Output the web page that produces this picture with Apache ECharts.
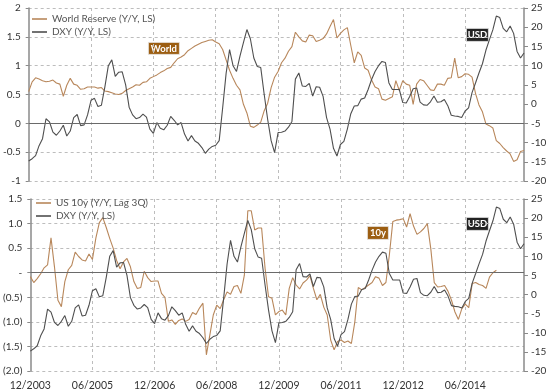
<!DOCTYPE html>
<html>
<head>
<meta charset="utf-8">
<script src="https://cdn.jsdelivr.net/npm/echarts@6/dist/echarts.min.js"></script>
<style>
html,body{margin:0;padding:0;background:#fff;}
#chart{width:550px;height:391px;}
</style>
</head>
<body>
<div id="chart"></div>
<script>
// ---- Data ----
// monthly categories 12/2003 .. 11/2015
const months = [];
for (let k = 0; k < 144; k++) {
  const d = new Date(2003, 11 + k, 1);
  months.push(String(d.getMonth() + 1).padStart(2, '0') + '/' + d.getFullYear());
}
const labelMonths = ['12/2003','06/2005','12/2006','06/2008','12/2009','06/2011','12/2012','06/2014'];

// World Reserve (Y/Y) – left scale, top panel
const worldReserve = [
0.55,0.72,0.79,0.77,0.74,0.72,0.73,0.75,0.70,0.68,
0.47,0.66,0.78,0.68,0.66,0.59,0.60,0.63,0.63,0.63,
0.61,0.62,0.56,0.55,0.53,0.51,0.50,0.52,0.57,0.60,
0.63,0.67,0.66,0.71,0.72,0.78,0.81,0.84,0.88,0.91,
0.95,0.97,1.05,1.12,1.15,1.19,1.26,1.30,1.34,1.37,
1.40,1.42,1.44,1.45,1.41,1.38,1.28,1.10,0.92,0.78,
0.66,0.58,0.33,0.18,-0.05,-0.07,-0.03,0.02,0.22,0.35,
0.62,0.80,0.90,1.05,1.13,1.25,1.33,1.58,1.50,1.43,
1.41,1.53,1.52,1.42,1.44,1.47,1.55,1.68,1.80,1.48,
1.56,1.62,1.66,1.35,1.05,1.24,1.18,0.96,0.92,0.75,
0.63,0.60,0.42,0.40,0.43,0.46,0.74,0.57,0.74,0.68,
0.66,0.33,0.68,0.76,0.74,0.66,0.58,0.57,0.68,0.68,
0.66,0.78,0.79,1.13,0.79,0.81,0.86,0.85,0.80,0.52,
0.32,0.20,-0.01,-0.04,-0.08,-0.30,-0.35,-0.42,-0.48,-0.53,
-0.66,-0.63,-0.49,-0.47
];

// DXY (Y/Y, %) – right scale, both panels
const dxy = [
-14.8,-14.2,-13.4,-10.8,-9.0,-3.8,-4.6,-7.3,-8.1,-7.0,
-5.5,-8.3,-7.0,-3.5,-2.7,-5.6,-5.4,-2.8,1.0,1.5,
-0.6,-0.3,4.5,10.0,11.5,7.2,8.3,8.4,5.0,-0.8,
-2.8,-3.8,-3.5,-2.6,-3.4,-6.5,-7.6,-4.8,-6.3,-6.7,
-5.5,-3.2,-4.2,-5.4,-4.8,-7.8,-9.6,-8.2,-9.6,-10.2,
-11.3,-12.8,-11.7,-11.0,-10.7,-9.5,-1.0,8.0,14.2,10.0,
8.5,12.5,16.0,19.4,17.0,12.0,9.8,9.5,2.5,-4.0,
-9.5,-12.6,-7.4,-7.3,-7.0,-6.0,-4.5,6.5,8.1,4.7,
4.6,5.4,2.1,4.5,4.4,2.0,-3.5,-6.5,-11.5,-13.5,
-10.5,-9.7,-6.5,-2.5,-0.5,-0.4,1.3,1.6,3.8,6.4,
8.5,10.0,11.1,10.8,5.5,3.8,3.8,3.8,0.4,0.3,
2.0,4.0,4.2,0.5,-0.2,-0.3,0.6,2.1,0.5,0.6,
1.2,-0.4,-2.9,-3.1,-3.2,-3.5,-1.8,-1.0,3.0,5.5,
8.1,10.5,14.0,16.7,19.3,22.9,22.5,19.7,18.8,20.3,
18.4,13.7,12.0,13.3
];

// US 10y (Y/Y, Lag 3Q) – left scale, bottom panel
const us10y = [
-0.08,-0.20,-0.12,-0.02,0.10,0.16,0.71,0.12,-0.56,-0.69,
-0.18,0.06,0.15,0.42,0.33,0.26,0.24,0.38,0.27,0.71,
1.02,1.12,0.92,0.70,0.50,0.25,0.08,0.22,0.29,0.12,
-0.18,-0.32,-0.30,0.03,-0.10,-0.18,-0.17,-0.17,-0.42,-0.50,
-0.99,-0.96,-1.05,-0.97,-0.94,-0.99,-0.95,-0.81,-0.85,-0.72,
-0.62,-1.67,-1.27,-0.86,-0.66,-0.73,-0.55,-0.39,-0.44,-0.28,
-0.26,-0.42,-0.05,1.26,1.26,0.87,0.91,0.91,0.09,-0.49,
-0.52,-0.86,-0.79,-0.76,-0.86,-0.32,-0.10,-0.25,-0.33,-0.21,
-0.15,-0.06,-0.32,-0.55,-0.44,-0.70,-0.86,-1.37,-1.57,-1.40,
-1.37,-1.42,-1.39,-1.44,-1.00,-0.30,-0.35,-0.30,-0.25,-0.20,
-0.08,-0.11,-0.26,-0.20,0.36,1.04,1.07,1.08,1.10,0.93,
1.20,0.95,0.78,0.83,0.90,1.00,0.49,-0.20,-0.29,-0.28,
-0.26,-0.38,-0.56,-0.80,-0.95,-0.73,-0.64,-0.71,-0.22,-0.20,
-0.24,-0.26,-0.32,-0.09,0.00,0.05
];

// ---- Chart ----
const FONT = 'Lato';
const BROWN = '#b8875b';
const GREY = '#4f4f4f';
const chart = echarts.init(document.getElementById('chart'), null, {renderer: 'canvas'});

const isLabelIdx = (i) => labelMonths.indexOf(months[i]) >= 0;
const gridDash = {show: true, lineStyle: {color: '#bdbdbd', type: [3, 3], width: 1}};

function xAxisCfg(gi, showLabels) {
  return {
    type: 'category', gridIndex: gi, data: months, boundaryGap: false,
    axisLine: {show: false}, axisTick: {show: false},
    axisLabel: {show: showLabels, interval: (i) => isLabelIdx(i), color: '#333', fontSize: 10.5, fontFamily: FONT, margin: 9},
    splitLine: {show: true, interval: (i) => isLabelIdx(i) && i > 0, lineStyle: {color: '#bdbdbd', type: [3, 3], width: 1}}
  };
}
function yLeft(gi, min, max, fmt) {
  return {
    type: 'value', gridIndex: gi, position: 'left', min: min, max: max, interval: 0.5,
    axisLine: {show: true, lineStyle: {color: '#8a8a8a', width: 1.5}},
    axisTick: {show: true, length: 3, lineStyle: {color: '#8a8a8a'}},
    axisLabel: {color: '#333', fontSize: 10, fontFamily: FONT, margin: 8, formatter: fmt},
    splitLine: gridDash
  };
}
function yRight(gi) {
  return {
    type: 'value', gridIndex: gi, position: 'right', min: -20, max: 25, interval: 5,
    axisLine: {show: true, lineStyle: {color: '#8a8a8a', width: 1.5}},
    axisTick: {show: true, length: 4, lineStyle: {color: '#8a8a8a'}},
    axisLabel: {color: '#333', fontSize: 10, fontFamily: FONT, margin: 7},
    splitLine: {show: false}
  };
}
const zeroLine = {
  silent: true, symbol: ['none', 'none'], label: {show: false},
  lineStyle: {color: '#6a6a6a', type: 'solid', width: 1.2},
  data: [{yAxis: 0}]
};
function annot(x, y, w, h, txt, fill) {
  return {
    type: 'group', left: x, top: y, z: 100,
    children: [
      {type: 'rect', shape: {x: 0, y: 0, width: w, height: h}, style: {fill: fill, stroke: '#e8e8e8', lineWidth: 0.8}},
      {type: 'text', x: w / 2, y: h / 2 + 0.5, style: {text: txt, fill: '#fff', font: 'bold 9.5px ' + FONT, textAlign: 'center', textVerticalAlign: 'middle'}}
    ]
  };
}
const legendCommon = {
  orient: 'vertical', icon: 'rect', itemWidth: 15, itemHeight: 1.6, itemGap: 3,
  textStyle: {color: '#555', fontSize: 10, fontFamily: FONT, padding: [0, 0, 0, 0]}, selectedMode: false
};

chart.setOption({
  animation: false,
  backgroundColor: '#fff',
  grid: [
    {left: 24, right: 26, top: 8, height: 173},
    {left: 30, right: 26, top: 199, height: 172}
  ],
  legend: [
    Object.assign({data: ['World Reserve (Y/Y, LS)', 'DXY (Y/Y, LS)'], left: 27, top: 9}, legendCommon),
    Object.assign({data: ['US 10y (Y/Y, Lag 3Q)', 'DXY (Y/Y, LS) '], left: 31, top: 193}, legendCommon)
  ],
  xAxis: [xAxisCfg(0, false), xAxisCfg(1, true)],
  yAxis: [
    yLeft(0, -1, 2, (v) => String(v)),
    yRight(0),
    yLeft(1, -2, 1.5, (v) => v === 0 ? '-' : (v < 0 ? '(' + Math.abs(v).toFixed(1) + ')' : v.toFixed(1))),
    yRight(1)
  ],
  series: [
    {name: 'World Reserve (Y/Y, LS)', type: 'line', xAxisIndex: 0, yAxisIndex: 0, data: worldReserve,
     symbol: 'none', lineStyle: {color: BROWN, width: 1.1}, itemStyle: {color: BROWN}, markLine: zeroLine},
    {name: 'DXY (Y/Y, LS)', type: 'line', xAxisIndex: 0, yAxisIndex: 1, data: dxy,
     symbol: 'none', lineStyle: {color: GREY, width: 1.1}, itemStyle: {color: GREY}},
    {name: 'US 10y (Y/Y, Lag 3Q)', type: 'line', xAxisIndex: 1, yAxisIndex: 2, data: us10y,
     symbol: 'none', lineStyle: {color: BROWN, width: 1.1}, itemStyle: {color: BROWN}, markLine: zeroLine},
    {name: 'DXY (Y/Y, LS) ', type: 'line', xAxisIndex: 1, yAxisIndex: 3, data: dxy,
     symbol: 'none', lineStyle: {color: GREY, width: 1.1}, itemStyle: {color: GREY}}
  ],
  graphic: [
    annot(148, 42, 31, 12, 'World', '#9c5e12'),
    annot(466, 28, 22, 13, 'USD', '#222'),
    annot(367, 226, 21, 13, '10y', '#9c5e12'),
    annot(466, 217, 22, 13, 'USD', '#222')
  ]
});
</script>
</body>
</html>
